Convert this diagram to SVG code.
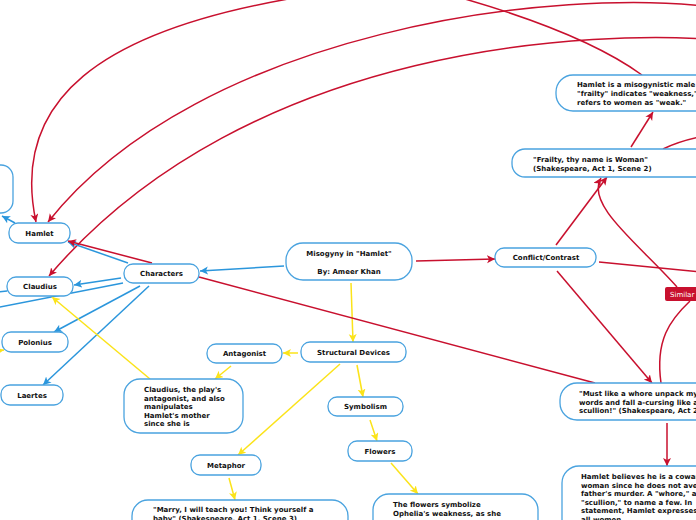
<svg xmlns="http://www.w3.org/2000/svg" width="696" height="520" viewBox="0 0 696 520">
<style>
.n{fill:#fff;stroke:#4aa3df;stroke-width:1.3}
.t{font-family:"DejaVu Sans",Verdana,sans-serif;font-weight:bold;font-size:7px;fill:#111}
.c{text-anchor:middle}
.b{fill:none;stroke:#2b96dc;stroke-width:1.5}
.y{fill:none;stroke:#fbe31a;stroke-width:1.5}
.r{fill:none;stroke:#c8102e;stroke-width:1.5}
</style>
<defs>
<marker id="ab" markerUnits="userSpaceOnUse" markerWidth="10" markerHeight="10" refX="8" refY="4" orient="auto"><path d="M0,0 L8,4 L0,8 L2,4 z" fill="#2b96dc"/></marker>
<marker id="ay" markerUnits="userSpaceOnUse" markerWidth="10" markerHeight="10" refX="8" refY="4" orient="auto"><path d="M0,0 L8,4 L0,8 L2,4 z" fill="#fbe31a"/></marker>
<marker id="ar" markerUnits="userSpaceOnUse" markerWidth="10" markerHeight="10" refX="8" refY="4" orient="auto"><path d="M0,0 L8,4 L0,8 L2,4 z" fill="#c8102e"/></marker>
</defs>
<rect width="696" height="520" fill="#fff"/>
<g id="connectors">
<path class="r" d="M300 -3 C100 30 10 100 36 222" marker-end="url(#ar)"/>
<path class="r" d="M720 8 C560 -15 200 30 48 222" marker-end="url(#ar)"/>
<path class="r" d="M720 40 C600 30 250 40 49 276" marker-end="url(#ar)"/>
<path class="r" d="M440 -8 Q580 30 642 75"/>
<path class="b" d="M284 266 L200 271" marker-end="url(#ab)"/>
<path class="b" d="M128 263 L68 242" marker-end="url(#ab)"/>
<path class="b" d="M121 278 L74 285" marker-end="url(#ab)"/>
<path class="b" d="M123 283 L-5 308"/>
<path class="b" d="M140 286 L54 332" marker-end="url(#ab)"/>
<path class="b" d="M149 286 L43 385" marker-end="url(#ab)"/>
<path class="b" d="M15 223 L2 216" marker-end="url(#ab)"/>
<path class="b" d="M-10 293 L7 291"/>
<path class="y" d="M351 283 L353 342" marker-end="url(#ay)"/>
<path class="y" d="M298 353 L283 353" marker-end="url(#ay)"/>
<path class="y" d="M357 365 L363 397" marker-end="url(#ay)"/>
<path class="y" d="M340 364 L238 455" marker-end="url(#ay)"/>
<path class="y" d="M231 366 L215 379" marker-end="url(#ay)"/>
<path class="y" d="M150 379 L52 297" marker-end="url(#ay)"/>
<path class="y" d="M229 478 L235 500" marker-end="url(#ay)"/>
<path class="y" d="M370 420 L377 441" marker-end="url(#ay)"/>
<path class="y" d="M391 463 L418 494" marker-end="url(#ay)"/>
<path class="y" d="M-10 352 L4 350" marker-end="url(#ay)"/>
<path class="r" d="M416 261 L495 259" marker-end="url(#ar)"/>
<path class="r" d="M199 277 L595 383"/>
<path class="r" d="M152 263 L68 241" marker-end="url(#ar)"/>
<path class="r" d="M556 245 L607 177" marker-end="url(#ar)"/>
<path class="r" d="M557 271 L652 383" marker-end="url(#ar)"/>
<path class="r" d="M599 262 L700 272"/>
<path class="r" d="M631 147 L653 112" marker-end="url(#ar)"/>
<path class="r" d="M663 149 Q680 141 700 137"/>
<path class="r" d="M677 287 C640 245 585 205 601 178" marker-end="url(#ar)"/>
<path class="r" d="M661 383 C655 340 670 320 690 301"/>
<path class="r" d="M667 423 L667 466" marker-end="url(#ar)"/>
</g>
<g id="left-partial"><rect class="n" x="-60" y="165" width="73" height="48" rx="12"/></g>
<g id="hamlet"><rect class="n" x="9" y="223" width="61" height="20" rx="9"/><text class="t c" x="39.5" y="235.5">Hamlet</text></g>
<g id="claudius"><rect class="n" x="7" y="277" width="66" height="19" rx="9"/><text class="t c" x="40" y="289">Claudius</text></g>
<g id="polonius"><rect class="n" x="2" y="332" width="66" height="20" rx="9"/><text class="t c" x="35" y="344.5">Polonius</text></g>
<g id="laertes"><rect class="n" x="1" y="385" width="62" height="20" rx="9"/><text class="t c" x="32" y="397.5">Laertes</text></g>
<g id="characters"><rect class="n" x="124" y="264" width="75" height="19" rx="9"/><text class="t c" x="161.5" y="276">Characters</text></g>
<g id="main"><rect class="n" x="286" y="243" width="126" height="37" rx="17"/><text class="t c" x="349" y="256">Misogyny in "Hamlet"</text><text class="t c" x="349" y="274">By: Ameer Khan</text></g>
<g id="antagonist"><rect class="n" x="207" y="344" width="75" height="19" rx="9"/><text class="t c" x="244.5" y="356">Antagonist</text></g>
<g id="structural"><rect class="n" x="301" y="342" width="105" height="20" rx="9"/><text class="t c" x="353.5" y="354.5">Structural Devices</text></g>
<g id="symbolism"><rect class="n" x="328" y="397" width="75" height="19" rx="9"/><text class="t c" x="365.5" y="409">Symbolism</text></g>
<g id="flowers"><rect class="n" x="348" y="441" width="64" height="20" rx="9"/><text class="t c" x="380" y="453.5">Flowers</text></g>
<g id="metaphor"><rect class="n" x="191" y="455" width="70" height="20" rx="9"/><text class="t c" x="226" y="467.5">Metaphor</text></g>
<g id="claudius-desc"><rect class="n" x="124" y="379" width="119" height="54" rx="16"/>
<text class="t" x="144" y="392">Claudius, the play's</text><text class="t" x="144" y="400.5">antagonist, and also</text><text class="t" x="144" y="409">manipulates</text><text class="t" x="144" y="417.5">Hamlet's mother</text><text class="t" x="144" y="426">since she is</text></g>
<g id="metaphor-desc"><rect class="n" x="132" y="500" width="216" height="40" rx="16"/>
<text class="t" x="153" y="512">"Marry, I will teach you! Think yourself a</text><text class="t" x="153" y="521">baby" (Shakespeare, Act 1, Scene 3)</text></g>
<g id="flowers-desc"><rect class="n" x="373" y="494" width="165" height="46" rx="16"/>
<text class="t" x="393" y="507">The flowers symbolize</text><text class="t" x="393" y="516">Ophelia's weakness, as she</text></g>
<g id="conflict"><rect class="n" x="495" y="248" width="101" height="19" rx="9"/><text class="t c" x="546" y="260">Conflict/Contrast</text></g>
<g id="frailty"><rect class="n" x="512" y="149" width="230" height="28" rx="13"/>
<text class="t" x="533" y="162">"Frailty, thy name is Woman"</text><text class="t" x="533" y="171">(Shakespeare, Act 1, Scene 2)</text></g>
<g id="misogynistic"><rect class="n" x="556" y="75" width="190" height="36" rx="17"/>
<text class="t" x="577" y="87">Hamlet is a misogynistic male</text><text class="t" x="577" y="96">"frailty" indicates "weakness,"</text><text class="t" x="577" y="105">refers to women as "weak."</text></g>
<g id="similar"><rect x="665" y="287" width="50" height="14" rx="2" fill="#c8102e"/><text x="670" y="297" font-family="DejaVu Sans,sans-serif" font-size="7" fill="#fff">Similar to</text></g>
<g id="whore"><rect class="n" x="560" y="383" width="190" height="37" rx="17"/>
<text class="t" x="579" y="396">"Must like a whore unpack my</text><text class="t" x="579" y="404.5">words and fall a-cursing like a</text><text class="t" x="579" y="413">scullion!" (Shakespeare, Act 2</text></g>
<g id="coward"><rect class="n" x="562" y="466" width="190" height="70" rx="17"/>
<text class="t" x="581" y="479">Hamlet believes he is a coward</text><text class="t" x="581" y="487.5">woman since he does not avenge</text><text class="t" x="581" y="496">father's murder. A "whore," a</text><text class="t" x="581" y="504.5">"scullion," to name a few. In</text><text class="t" x="581" y="513">statement, Hamlet expresses</text><text class="t" x="581" y="521.5">all women.</text></g>
</svg>
